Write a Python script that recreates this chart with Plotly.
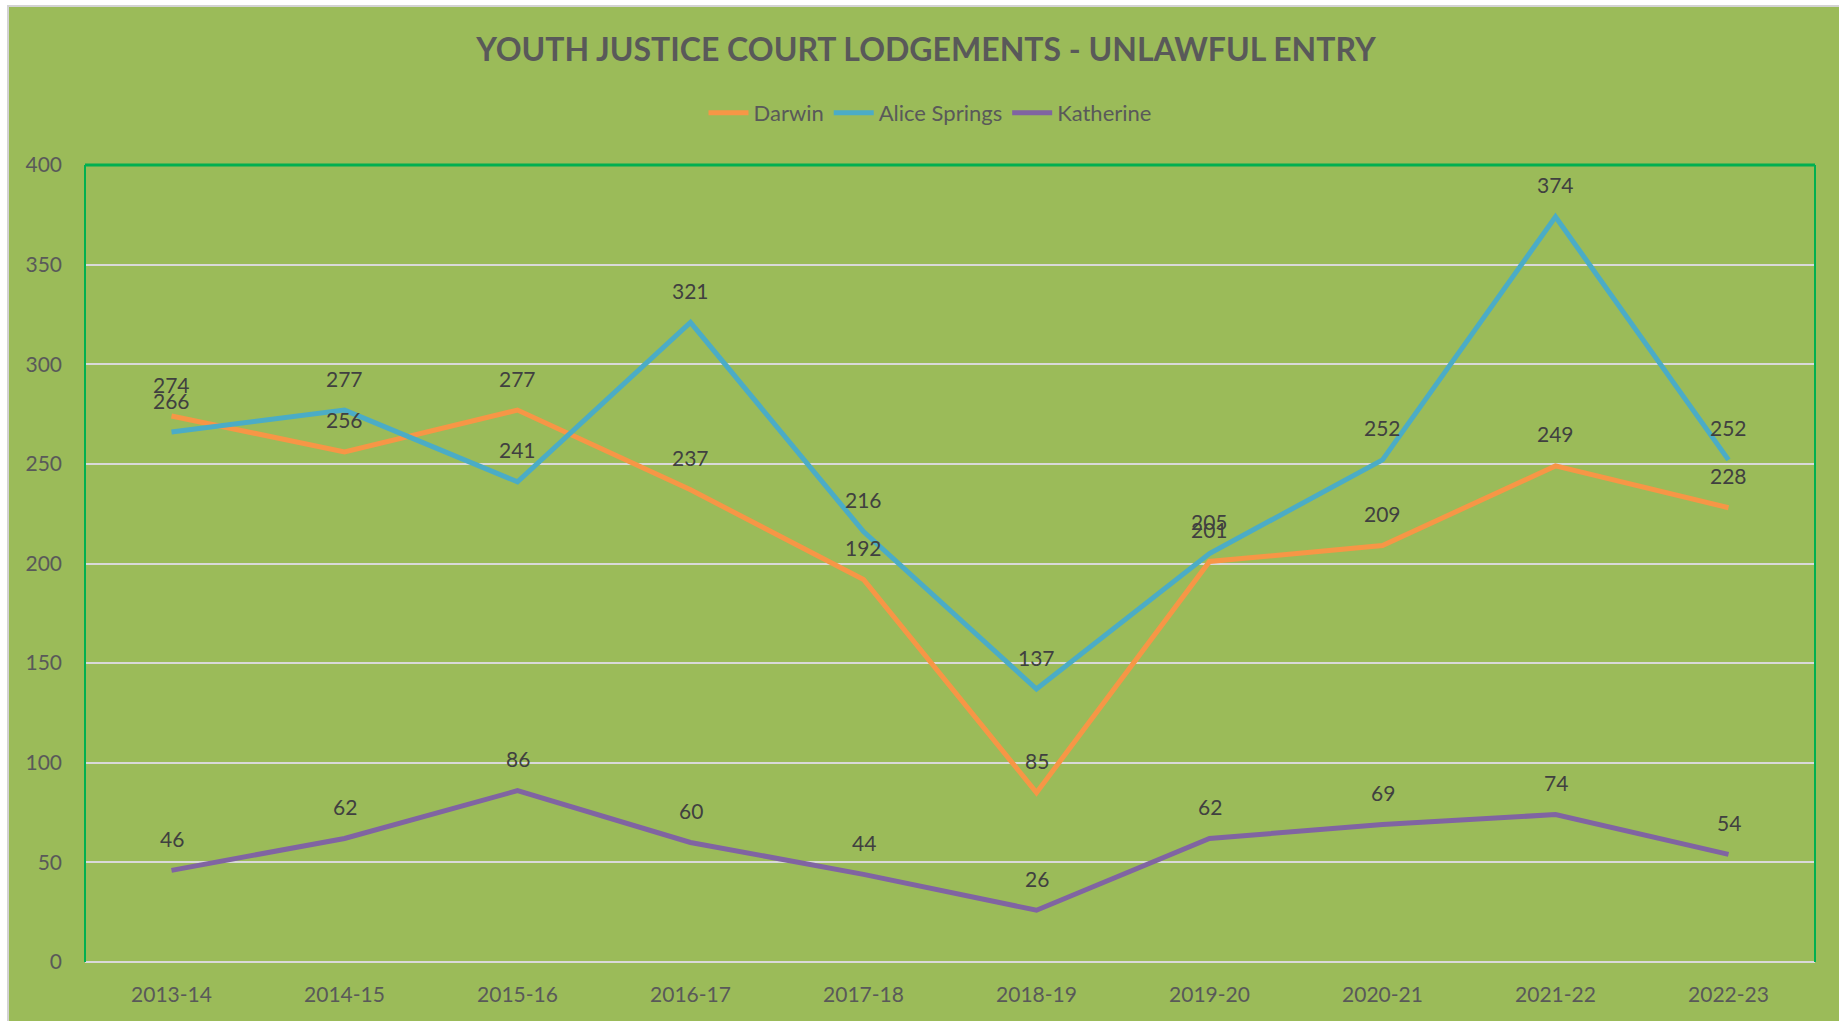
import plotly.graph_objects as go

years = ["2013-14", "2014-15", "2015-16", "2016-17", "2017-18",
         "2018-19", "2019-20", "2020-21", "2021-22", "2022-23"]
darwin = [274, 256, 277, 237, 192, 85, 201, 209, 249, 228]
alice_springs = [266, 277, 241, 321, 216, 137, 205, 252, 374, 252]
katherine = [46, 62, 86, 60, 44, 26, 62, 69, 74, 54]
y_ticks = [0, 50, 100, 150, 200, 250, 300, 350, 400]

series = [
    ("Darwin", darwin, "#F79646"),
    ("Alice Springs", alice_springs, "#4BACC6"),
    ("Katherine", katherine, "#8064A2"),
]

GREEN = "#9BBB59"
FONT = "Lato"
W, H = 1839, 1021
L, R, T, B = 85, 24, 165, 59
PW, PH = W - L - R, H - T - B


def px_x(px):
    return (px - L) / PW


def px_y(py):
    return (H - B - py) / PH


fig = go.Figure()
annotations = []
for name, vals, color in series:
    fig.add_trace(go.Scatter(
        x=years, y=vals, name=name, mode="lines",
        line=dict(color=color, width=5),
    ))
    for xv, yv in zip(years, vals):
        annotations.append(dict(
            x=xv, y=yv, text=str(yv), showarrow=False, yshift=32,
            xanchor="center", yanchor="middle",
            font=dict(family=FONT, size=21, color="#404040"),
        ))

shapes = [
    dict(type="rect", xref="paper", yref="paper",
         x0=px_x(8), x1=px_x(W + 5), y0=px_y(H + 5), y1=px_y(6),
         fillcolor=GREEN, line=dict(color="#D3D3D3", width=2), layer="below"),
    dict(type="line", xref="paper", yref="paper", x0=0, x1=0, y0=0, y1=1,
         line=dict(color="#00B050", width=2)),
    dict(type="line", xref="paper", yref="paper", x0=0, x1=1, y0=1, y1=1,
         line=dict(color="#00B050", width=3)),
    dict(type="line", xref="paper", yref="paper", x0=1, x1=1, y0=0, y1=1,
         line=dict(color="#00B050", width=2)),
]

fig.update_layout(
    width=W, height=H,
    margin=dict(l=L, r=R, t=T, b=B, pad=0),
    paper_bgcolor="#FFFFFF",
    plot_bgcolor=GREEN,
    font=dict(family=FONT, color="#595959"),
    title=dict(
        text="<b>YOUTH JUSTICE COURT LODGEMENTS - UNLAWFUL ENTRY</b>",
        x=926 / W, y=1 - 50 / H, xref="container", yref="container",
        xanchor="center", yanchor="middle",
        font=dict(family=FONT, size=32, color="#595959"),
    ),
    legend=dict(
        orientation="h", x=px_x(930), y=px_y(113),
        xanchor="center", yanchor="middle",
        font=dict(family=FONT, size=22, color="#595959"),
        bgcolor="rgba(0,0,0,0)", itemwidth=40,
    ),
    xaxis=dict(
        type="category", range=[-0.5, len(years) - 0.5],
        showgrid=False, zeroline=False, showline=False,
        ticks="", tickfont=dict(family=FONT, size=21, color="#595959"),
        ticklabelstandoff=18,
    ),
    yaxis=dict(
        range=[0, 400], tickvals=y_ticks,
        showgrid=True, gridcolor="#D9D9D9", gridwidth=2,
        zeroline=True, zerolinecolor="#D9D9D9", zerolinewidth=2,
        showline=False, ticks="",
        tickfont=dict(family=FONT, size=21, color="#595959"),
        ticklabelstandoff=22,
    ),
    shapes=shapes,
    annotations=annotations,
    showlegend=True,
)

fig.write_html("out.html", config={"displayModeBar": False},
               post_script="document.body.style.margin='0';")
